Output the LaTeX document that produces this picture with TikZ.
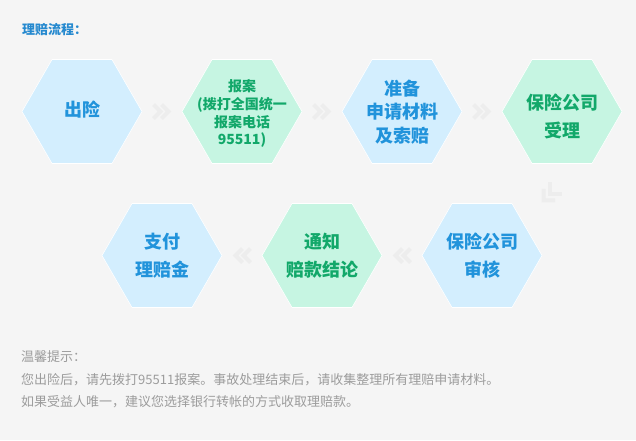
\documentclass[tikz,border=0pt]{standalone}
\usepackage{fontspec}
\setmainfont{Noto Sans CJK SC}
\usetikzlibrary{shapes.geometric,calc}
\definecolor{bgc}{HTML}{F5F5F5}
\definecolor{bfill}{HTML}{D3EEFE}
\definecolor{btext}{HTML}{2193DB}
\definecolor{gfill}{HTML}{C6F5E2}
\definecolor{gtext}{HTML}{12A86A}
\definecolor{titlec}{HTML}{2589CF}
\definecolor{grayt}{HTML}{9C9C9C}
\definecolor{chevc}{HTML}{EDEDED}
\tikzset{
  hexbase/.style={regular polygon, regular polygon sides=6,
    minimum size=120pt, inner sep=0pt, draw=white, line width=0.6pt},
  hexb/.style={hexbase, fill=bfill},
  hexg/.style={hexbase, fill=gfill},
  txtb/.style={text=btext, font=\bfseries\fontsize{18}{23.5}\selectfont, align=center, inner sep=0pt},
  txtg/.style={text=gtext, font=\bfseries\fontsize{18}{23.5}\selectfont, align=center, inner sep=0pt},
  chevline/.style={draw=chevc, line width=4pt, miter limit=10},
  chev/.pic={\draw[chevline] (-8.5,-7) -- (-1.5,0) -- (-8.5,7);
             \draw[chevline] (-0.5,-7) -- (6.5,0) -- (-0.5,7);},
  note/.style={text=grayt, font=\fontsize{13}{15}\selectfont, anchor=base west, inner sep=0pt}
}
\begin{document}
\begin{tikzpicture}[x=1pt,y=-1pt]
\fill[bgc] (0,0) rectangle (636,440);
\useasboundingbox (0,0) rectangle (636,440);

\node[text=titlec, font=\bfseries\fontsize{13}{15}\selectfont, anchor=base west, inner sep=0pt] (title) at (22,34.5) {理赔流程：};

% row 1
\node[hexb] (h1) at (82,111.5) {};
\node[hexg] (h2) at (242,111.5) {};
\node[hexb] (h3) at (402,111.5) {};
\node[hexg] (h4) at (562,111.5) {};
% row 2
\node[hexb] (h7) at (482,255.5) {};
\node[hexg] (h6) at (322,255.5) {};
\node[hexb] (h5) at (162,255.5) {};

\node[txtb] (t1) at (82,110) {出险};
\node[txtg, font=\bfseries\fontsize{14}{17.8}\selectfont] (t2) at (242,113.5) {报案\\(拨打全国统一\\报案电话\\95511)};
\node[txtb] (t3) at (402,111.7) {准备\\申请材料\\及索赔};
\node[txtg, font=\bfseries\fontsize{18}{27.5}\selectfont] (t4) at (562,116.5) {保险公司\\受理};
\node[txtb, font=\bfseries\fontsize{18}{28}\selectfont] (t7) at (482,256) {保险公司\\审核};
\node[txtg, font=\bfseries\fontsize{18}{28}\selectfont] (t6) at (322,256) {通知\\赔款结论};
\node[txtb, font=\bfseries\fontsize{18}{28}\selectfont] (t5) at (162,256) {支付\\理赔金};

% chevrons
\pic at ($(h1)!0.5!(h2)$) {chev};
\pic at ($(h2)!0.5!(h3)$) {chev};
\pic at ($(h3)!0.5!(h4)$) {chev};
\pic[rotate=225, scale=1.15] at (549,195) {chev};
\pic[rotate=180] at ($(h7)!0.5!(h6)$) {chev};
\pic[rotate=180] at ($(h6)!0.5!(h5)$) {chev};

% notes
\node[note] (n1) at (21,361.5) {温馨提示：};
\node[note] (n2) at (21,384.5) {您出险后，请先拨打95511报案。事故处理结束后，请收集整理所有理赔申请材料。};
\node[note] (n3) at (21,406.5) {如果受益人唯一，建议您选择银行转帐的方式收取理赔款。};
\end{tikzpicture}
\end{document}
